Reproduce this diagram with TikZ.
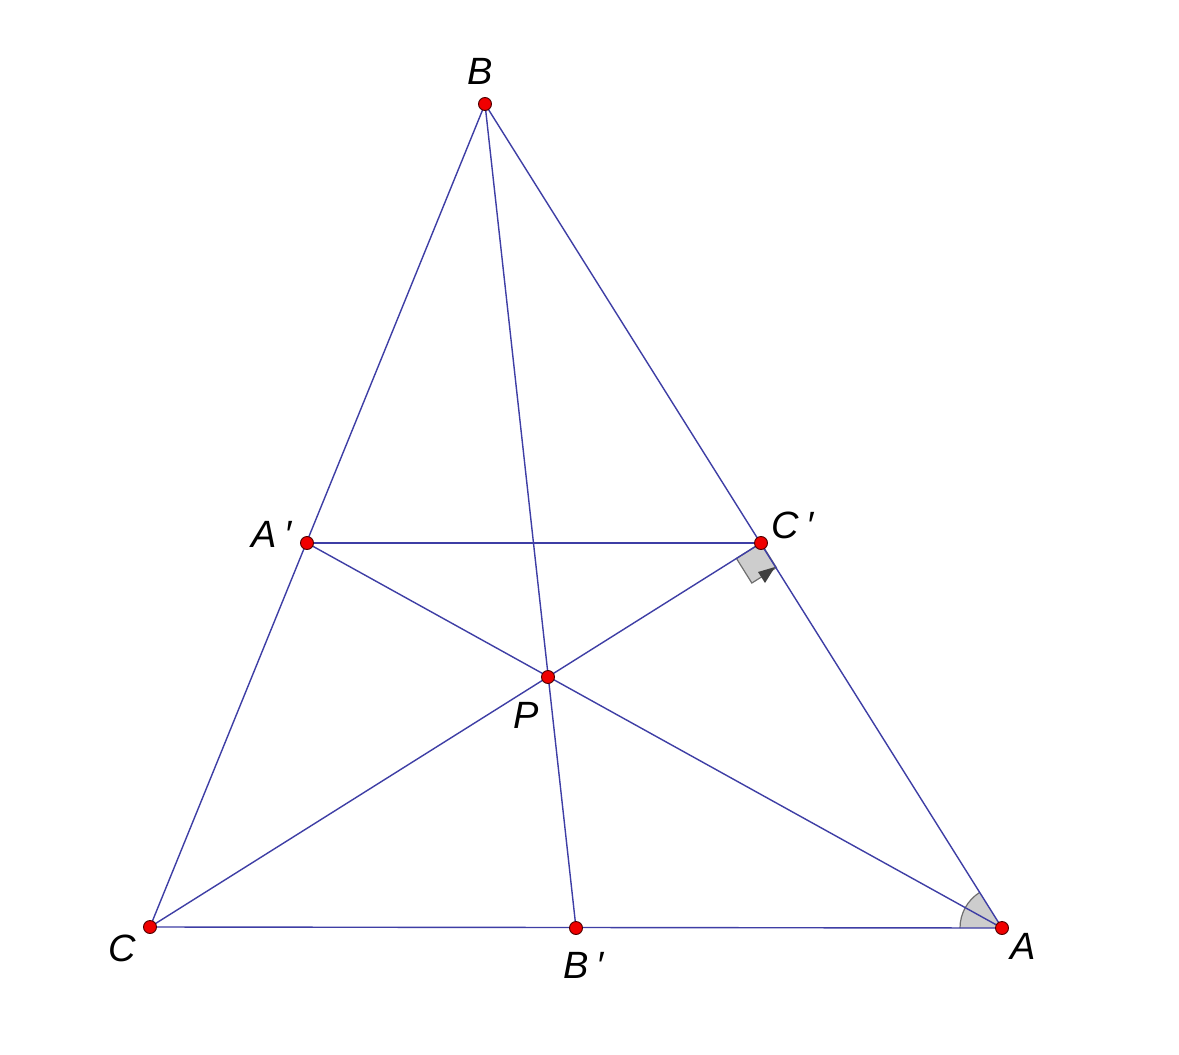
\documentclass[tikz,border=0pt]{standalone}
\usepackage{fontspec}
\setmainfont{Liberation Sans}
\usetikzlibrary{calc}
\definecolor{seg}{RGB}{62,62,165}
\definecolor{ptred}{RGB}{240,0,0}
\definecolor{markfill}{RGB}{205,205,205}
\definecolor{markline}{RGB}{110,110,110}
\newcommand{\pr}{\hspace{0.2em}′}
\tikzset{
  seg/.style={draw=seg, line width=1.4pt},
  pt/.style={circle, fill=ptred, draw=black!70!red, line width=0.9pt, minimum size=13pt, inner sep=0pt},
  lbl/.style={font=\fontsize{38}{44}\selectfont\itshape, text=black, inner sep=0pt},
  anglemark/.style={fill=markfill, draw=markline, line width=1.2pt}
}
\begin{document}
\begin{tikzpicture}[x=1pt,y=-1pt]
\useasboundingbox[fill=white] (0,0) rectangle (1179,1055);
\coordinate (B) at (485,104);
\coordinate (Ap) at (307,543);
\coordinate (Cp) at (761,543);
\coordinate (P) at (548,677);
\coordinate (C) at (150,927);
\coordinate (Bp) at (576,928);
\coordinate (A) at (1002,928);
% angle mark at A
\fill[markfill] (A) -- ++(180:42) arc[start angle=180, end angle=238, radius=42] -- cycle;
\draw[markline, line width=1.2pt] ($(A)+(180:42)$) arc[start angle=180, end angle=238, radius=42];
% right angle mark at C'
\coordinate (r1) at ($(Cp)!29pt!(P)$);
\coordinate (r3) at ($(Cp)!29pt!(A)$);
\coordinate (r2) at ($(r1)+(r3)-(Cp)$);
\path[anglemark] (Cp) -- (r1) -- (r2) -- (r3) -- cycle;
\fill[black!75] (775,567) -- (758,572) -- (765,583) -- cycle;
% segments
\draw[seg] (C) -- (B) -- (A) -- (C);
\draw[seg] (Ap) -- (Cp);
\draw[seg] (Ap) -- (A);
\draw[seg] (C) -- (Cp);
\draw[seg] (B) -- (Bp);
% points
\node[pt] (nB) at (B) {};
\node[pt] (nAp) at (Ap) {};
\node[pt] (nCp) at (Cp) {};
\node[pt] (nP) at (P) {};
\node[pt] (nC) at (C) {};
\node[pt] (nBp) at (Bp) {};
\node[pt] (nA) at (A) {};
% labels
\node[lbl] (lB) at (480,71) {B};
\node[lbl] (lAp) at (272,534) {A\pr};
\node[lbl] (lCp) at (793,525) {C\pr};
\node[lbl] (lP) at (526,715) {P};
\node[lbl] (lC) at (122,948) {C};
\node[lbl] (lBp) at (584,965) {B\pr};
\node[lbl] (lA) at (1023,946) {A};
\end{tikzpicture}
\end{document}
